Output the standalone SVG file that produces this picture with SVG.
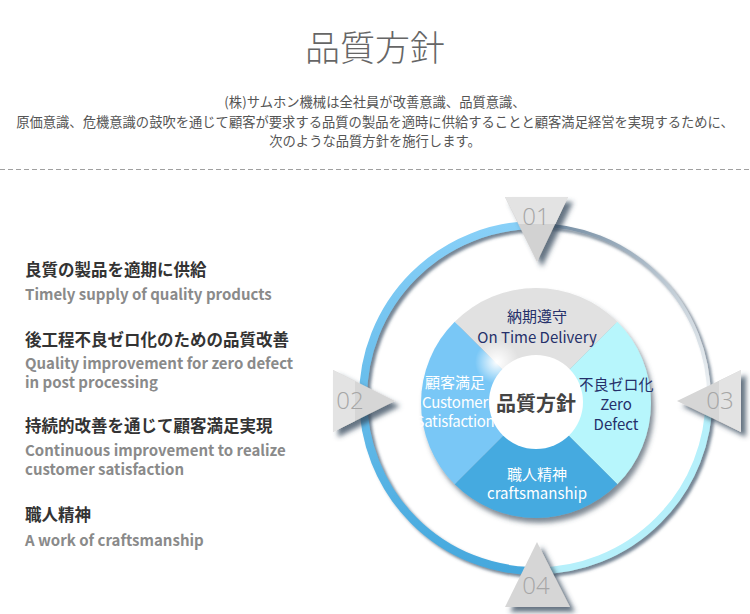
<svg xmlns="http://www.w3.org/2000/svg" width="750" height="614" viewBox="0 0 750 614">
<defs>
<style>
.jp{font-family:"Noto Sans CJK JP","Noto Sans",sans-serif}
.title{font-size:35px;font-weight:300;fill:#666;text-anchor:middle}
.intro{font-size:13.3px;fill:#555;text-anchor:middle}
.h{font-size:16.5px;font-weight:700;fill:#333}
.en{font-size:15px;font-weight:700;fill:#8a8a8a}
.num{font-family:"Open Sans","Noto Sans",sans-serif;font-weight:300;font-size:24px;fill:#a6a6a6;text-anchor:middle}
.q{font-size:15px;text-anchor:middle}
.navy{fill:#25306a}
.wt{fill:#ffffff}
.tri-shadow{filter:url(#tsh)}
</style>
<filter id="tsh" x="-30%" y="-30%" width="160%" height="160%">
<feGaussianBlur in="SourceAlpha" stdDeviation="2.5"/>
<feOffset dx="5" dy="5" result="b"/>
<feFlood flood-color="#32465a" flood-opacity="0.75"/>
<feComposite in2="b" operator="in" result="s"/>
<feMerge><feMergeNode in="s"/><feMergeNode in="SourceGraphic"/></feMerge>
</filter>
<filter id="rsh" x="-10%" y="-10%" width="120%" height="120%">
<feGaussianBlur in="SourceAlpha" stdDeviation="1.5"/>
<feOffset dx="3" dy="3" result="b"/>
<feFlood flood-color="#3c5268" flood-opacity="0.7"/>
<feComposite in2="b" operator="in" result="s"/>
<feMerge><feMergeNode in="s"/><feMergeNode in="SourceGraphic"/></feMerge>
</filter>
<filter id="dsh" x="-10%" y="-10%" width="120%" height="120%">
<feGaussianBlur in="SourceAlpha" stdDeviation="2.5"/>
<feOffset dx="3" dy="5" result="b"/>
<feFlood flood-color="#3c4c5c" flood-opacity="0.65"/>
<feComposite in2="b" operator="in" result="s"/>
<feMerge><feMergeNode in="s"/><feMergeNode in="SourceGraphic"/></feMerge>
</filter>
<linearGradient id="gA" gradientUnits="userSpaceOnUse" x1="0" y1="225" x2="0" y2="571">
<stop offset="0" stop-color="#88d0f8"/>
<stop offset="1" stop-color="#45a8dd"/>
</linearGradient>
<linearGradient id="gC" gradientUnits="userSpaceOnUse" x1="536" y1="225" x2="709" y2="398">
<stop offset="0" stop-color="#6f889f"/>
<stop offset="0.6" stop-color="#c4cfd8"/>
<stop offset="1" stop-color="#eef2f5"/>
</linearGradient>
<radialGradient id="glow" cx="0.5" cy="0.5" r="0.5">
<stop offset="0" stop-color="#ffffff" stop-opacity="1"/>
<stop offset="1" stop-color="#ffffff" stop-opacity="0"/>
</radialGradient>
</defs>
<rect width="750" height="614" fill="#ffffff"/>

<g id="title">
<text class="jp title" x="375" y="61">品質方針</text>
</g>
<g id="intro">
<text class="jp intro" x="375" y="107">(株)サムホン機械は全社員が改善意識、品質意識、</text>
<text class="jp intro" x="375" y="127">原価意識、危機意識の鼓吹を通じて顧客が要求する品質の製品を適時に供給することと顧客満足経営を実現するために、</text>
<text class="jp intro" x="375" y="146">次のような品質方針を施行します。</text>
</g>
<line x1="0" y1="169.5" x2="750" y2="169.5" stroke="#a0a0a0" stroke-width="1" stroke-dasharray="5 3"/>

<g id="item1">
<text class="jp h" x="25" y="276">良質の製品を適期に供給</text>
<text class="jp en" x="25" y="300">Timely supply of quality products</text>
</g>
<g id="item2">
<text class="jp h" x="25" y="346">後工程不良ゼロ化のための品質改善</text>
<text class="jp en" x="25" y="369">Quality improvement for zero defect</text>
<text class="jp en" x="25" y="388">in post processing</text>
</g>
<g id="item3">
<text class="jp h" x="25" y="432">持続的改善を通じて顧客満足実現</text>
<text class="jp en" x="25" y="456">Continuous improvement to realize</text>
<text class="jp en" x="25" y="475">customer satisfaction</text>
</g>
<g id="item4">
<text class="jp h" x="25" y="521">職人精神</text>
<text class="jp en" x="25" y="546">A work of craftsmanship</text>
</g>

<g id="connectors" filter="url(#rsh)" fill="none">
<path d="M536 225 A173 173 0 0 0 536 571" stroke="url(#gA)" stroke-width="8"/>
<path d="M536 571 A173 173 0 0 0 709 398" stroke="#b6f0fb" stroke-width="7"/>
<path d="M709 398 A173 173 0 0 0 536 225" stroke="url(#gC)" stroke-width="3.5"/>
</g>

<g id="disk">
<g filter="url(#dsh)">
<path d="M536 403 L454.7 321.7 A115 115 0 0 1 617.3 321.7 Z" fill="#e1e1e1"/>
<path d="M536 403 L617.3 321.7 A115 115 0 0 1 617.3 484.3 Z" fill="#b7f6fc"/>
<path d="M536 403 L617.3 484.3 A115 115 0 0 1 454.7 484.3 Z" fill="#45aae0"/>
<path d="M536 403 L454.7 484.3 A115 115 0 0 1 454.7 321.7 Z" fill="#79c7f6"/>
</g>
<circle cx="497" cy="362" r="22" fill="url(#glow)"/>
</g>

<g id="q-top">
<text class="jp q navy" x="537" y="322">納期遵守</text>
<text class="jp q navy" x="537" y="343" font-size="16">On Time Delivery</text>
</g>
<g id="q-left">
<text class="jp q wt" x="455" y="388" font-size="14">顧客満足</text>
<text class="jp q wt" x="455" y="408" font-size="13.5" letter-spacing="-0.2">Customer</text>
<text class="jp q wt" x="455" y="427" font-size="13.5" letter-spacing="-0.3">Satisfaction</text>
</g>
<g id="q-right">
<text class="jp q navy" x="616" y="390">不良ゼロ化</text>
<text class="jp q navy" x="616" y="410" font-size="16">Zero</text>
<text class="jp q navy" x="616" y="430" font-size="16">Defect</text>
</g>
<g id="q-bottom">
<text class="jp q wt" x="537" y="480">職人精神</text>
<text class="jp q wt" x="537" y="499" font-size="16">craftsmanship</text>
</g>

<g id="center">
<circle cx="536" cy="402" r="47" fill="#ffffff"/>
<text class="jp" x="536" y="411" font-size="20" font-weight="700" fill="#444" text-anchor="middle">品質方針</text>
</g>

<g id="tri01">
<g class="tri-shadow">
<polygon points="505,197 568,197 537,262" fill="#d2d2d2"/>
<polygon points="505,197 568,197 555.3,224 518.7,224" fill="#e3e3e3"/>
</g>
<text class="num" x="536" y="225">01</text>
</g>
<g id="tri02">
<g class="tri-shadow">
<polygon points="333,370 333,432 395,401" fill="#d6d6d6"/>
<polygon points="333,370 333,432 355,421 355,381" fill="#e3e3e3"/>
</g>
<text class="num" x="350" y="409">02</text>
</g>
<g id="tri03">
<g class="tri-shadow">
<polygon points="741,370 741,432 677,401" fill="#d6d6d6"/>
<polygon points="741,370 741,432 719,421 719,381" fill="#e3e3e3"/>
</g>
<text class="num" x="720" y="409">03</text>
</g>
<g id="tri04">
<g class="tri-shadow">
<polygon points="537,542 505,607 570,607" fill="#d6d6d6"/>
</g>
<text class="num" x="536" y="594">04</text>
</g>
</svg>
